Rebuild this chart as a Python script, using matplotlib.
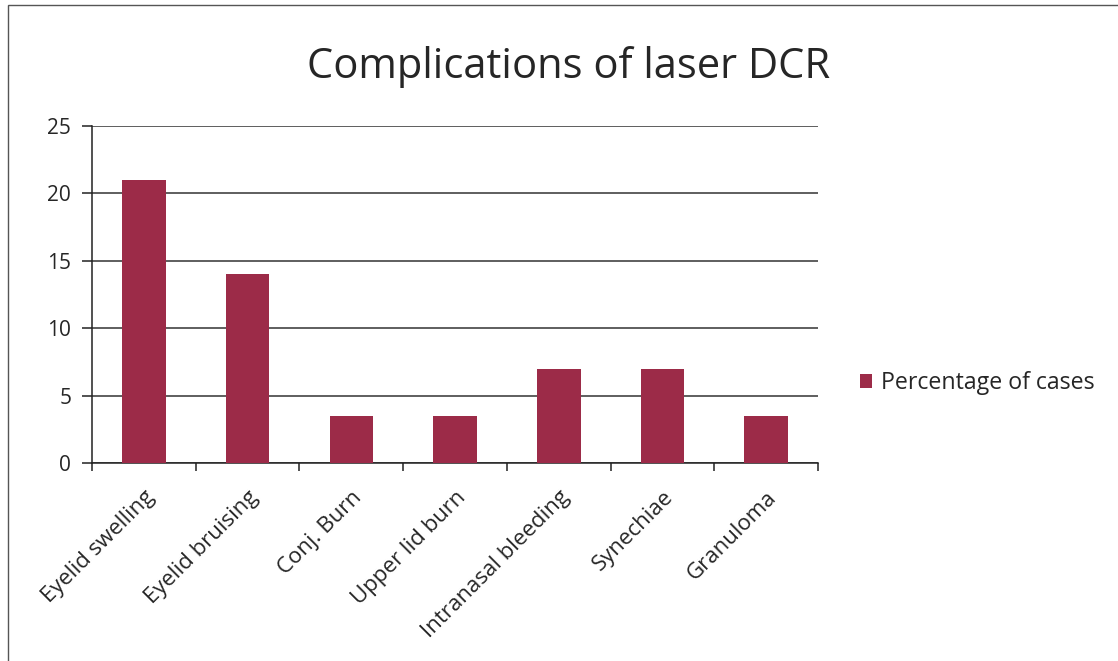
import matplotlib
matplotlib.use("Agg")
import matplotlib.pyplot as plt
import numpy as np
from matplotlib.patches import Rectangle

# data
categories = ["Eyelid swelling", "Eyelid bruising", "Conj. Burn", "Upper lid burn",
              "Intranasal bleeding", "Synechiae", "Granuloma"]
percentages = [21, 14, 3.5, 3.5, 7, 7, 3.5]
yticks = [0, 5, 10, 15, 20, 25]

plt.rcParams["font.family"] = ["Open Sans", "DejaVu Sans"]
barColor = "#9C2B48"
textColor = "#262626"

fig = plt.figure(figsize=(11.18, 6.61), dpi=100)
ax = fig.add_axes([0.0823, 0.2995, 0.6494, 0.5099])

x = np.arange(len(categories))
ax.bar(x, percentages, width=0.42, color=barColor, label="Percentage of cases", zorder=3)

ax.set_xlim(-0.5, len(categories) - 0.5)
ax.set_ylim(0, 25)
ax.set_yticks(yticks)
ax.yaxis.grid(True, color="#333333", linewidth=1.1, zorder=0)

for s in ["top", "right"]:
    ax.spines[s].set_visible(False)
ax.spines["left"].set_color("#222222")
ax.spines["bottom"].set_color("#222222")
ax.spines["left"].set_linewidth(1.1)
ax.spines["bottom"].set_linewidth(1.1)

ax.tick_params(axis="y", direction="out", length=7, width=1.1, labelsize=15, pad=8,
               colors="#222222", labelcolor=textColor)
ax.set_xticks(np.arange(len(categories) + 1) - 0.5, minor=False)
ax.set_xticklabels([])
ax.tick_params(axis="x", which="major", direction="out", length=6, width=1.1, colors="#222222")
ax.set_xticks(x, minor=True)
ax.set_xticklabels(categories, minor=True, rotation=45, ha="right", va="top",
                   rotation_mode="anchor", fontsize=16, color=textColor)
ax.tick_params(axis="x", which="minor", length=0, pad=17)

fig.text(0.509, 0.898, "Complications of laser DCR", ha="center", va="center",
         fontsize=30, color=textColor)

ax.legend(loc="center left", bbox_to_anchor=(0.769, 0.42), bbox_transform=fig.transFigure,
          frameon=False, fontsize=16.7, handlelength=0.55, handleheight=0.55,
          handletextpad=0.35, borderpad=0, borderaxespad=0, labelcolor=textColor)

# outer chart border
fig.patches.append(Rectangle((0.007, -0.02), 1.2, 1.012, transform=fig.transFigure,
                             fill=False, edgecolor="#555555", linewidth=1.0))

fig.savefig("out.png", dpi=100, facecolor="white")
